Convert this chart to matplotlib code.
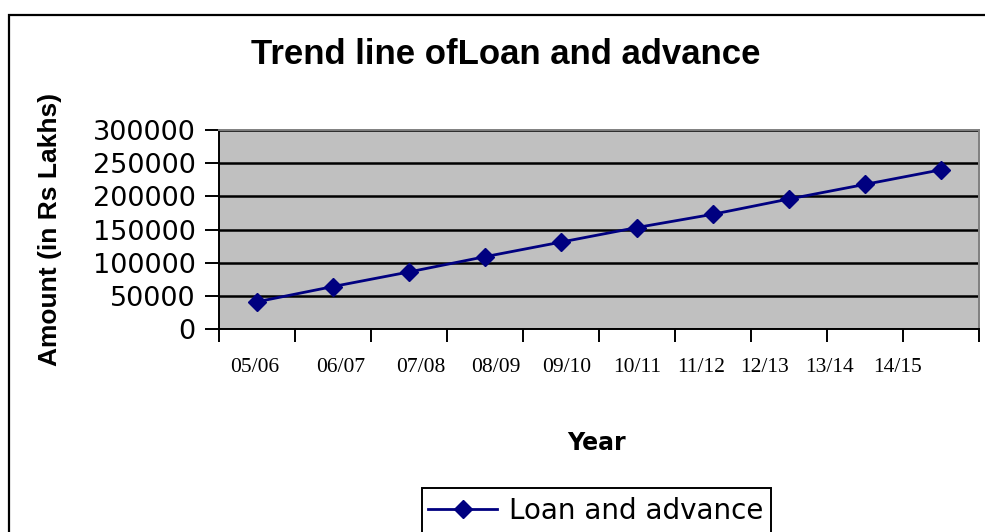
import matplotlib
matplotlib.use("Agg")
import matplotlib.pyplot as plt
from matplotlib.patches import Rectangle
from matplotlib.ticker import FixedLocator, NullFormatter
from matplotlib.lines import Line2D

# data
years = ["05/06", "06/07", "07/08", "08/09", "09/10",
         "10/11", "11/12", "12/13", "13/14", "14/15"]
loan_advance = [41000, 64000, 86000, 109000, 131000,
                153000, 173000, 196000, 218000, 240000]
y_ticks = [0, 50000, 100000, 150000, 200000, 250000, 300000]

# the category labels in the source are not centred under their points
label_x = [0.47, 1.60, 2.66, 3.64, 4.57, 5.50, 6.34, 7.18, 8.03, 8.93]

W, H = 985, 532
fig = plt.figure(figsize=(W / 100, H / 100), dpi=100)
fig.patch.set_facecolor("white")

# outer chart border (runs off the right and bottom edge)
fig.patches.append(Rectangle((9 / W, -0.1), 1.1, 1 - 15 / H + 0.1,
                             transform=fig.transFigure, fill=False,
                             edgecolor="black", linewidth=1.6))

ax = fig.add_axes([219 / W, 1 - 329 / H, 760 / W, 199 / H])
ax.set_facecolor("#C0C0C0")

x = [i + 0.5 for i in range(len(years))]
ax.plot(x, loan_advance, color="#000080", linewidth=2.0,
        marker="D", markersize=9, markerfacecolor="#000080",
        markeredgecolor="#000080", zorder=3)

ax.set_xlim(0, len(years))
ax.set_ylim(0, 300000)

ax.set_yticks(y_ticks)
ax.set_yticklabels([str(v) for v in y_ticks], fontfamily="DejaVu Sans", fontsize=19.5)
ax.tick_params(axis="y", direction="out", length=10, width=1.4, pad=7, colors="black")

ax.xaxis.set_major_locator(FixedLocator(range(len(years) + 1)))
ax.xaxis.set_major_formatter(NullFormatter())
ax.xaxis.set_minor_locator(FixedLocator(label_x))
ax.set_xticklabels(years, minor=True, fontfamily="Liberation Serif", fontsize=15.5)
ax.tick_params(axis="x", which="major", direction="out", length=9, width=1.4)
ax.tick_params(axis="x", which="minor", length=0, pad=21)

ax.grid(axis="y", color="black", linewidth=1.8, zorder=1)
ax.set_axisbelow(True)

for side in ("top", "right"):
    ax.spines[side].set_color("#808080")
    ax.spines[side].set_linewidth(1.4)
for side in ("left", "bottom"):
    ax.spines[side].set_color("black")
    ax.spines[side].set_linewidth(1.4)

ax.set_ylabel("Amount (in Rs Lakhs)", fontfamily="Liberation Sans",
              fontweight="bold", fontsize=19)
ax.yaxis.set_label_coords(-0.2066, 0.5)

ax.set_xlabel("Year", fontfamily="DejaVu Sans", fontweight="bold", fontsize=17)
ax.xaxis.set_label_coords(0.497, -0.573)
ax.xaxis.label.set_va("center")

fig.text(506 / W, 1 - 54 / H, "Trend line ofLoan and advance",
         ha="center", va="center", fontfamily="Liberation Sans",
         fontweight="bold", fontsize=25)

# legend box, cut off by the bottom edge like the source
fig.patches.append(Rectangle((422 / W, -0.1), (771 - 422) / W, 1 - 488 / H + 0.1,
                             transform=fig.transFigure, fill=False,
                             edgecolor="black", linewidth=1.4))
handle = Line2D([], [], color="#000080", linewidth=2.0, marker="D",
                markersize=9, markerfacecolor="#000080")
fig.legend([handle], ["Loan and advance"], loc="center left",
           bbox_to_anchor=(428 / W, 1 - 511 / H), frameon=False,
           prop={"family": "DejaVu Sans", "size": 20},
           handlelength=2.5, handletextpad=0.4, borderpad=0, borderaxespad=0)

fig.savefig("out.png", dpi=100)
